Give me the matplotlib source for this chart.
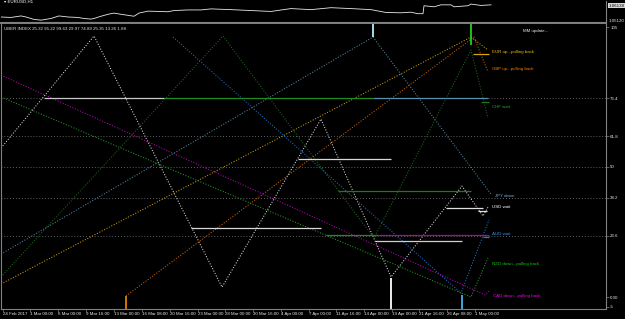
import matplotlib
matplotlib.use('Agg')
import matplotlib.pyplot as plt

FONT = ['Liberation Sans', 'DejaVu Sans']
FS = 3.2
GRID = '#808080'
TXT = '#e6e6e6'

# x positions are bar columns of the MT4 chart window
tick_pos = [2, 29, 57, 85, 113, 141, 169, 197, 224, 252, 280, 308, 335, 363, 391, 418, 446, 474]
tick_labels = ['24 Feb 2017', '1 Mar 00:00', '6 Mar 00:00', '9 Mar 16:00', '13 Mar 00:00',
               '16 Mar 08:00', '20 Mar 16:00', '23 Mar 00:00', '28 Mar 00:00', '30 Mar 16:00',
               '4 Apr 00:00', '7 Apr 00:00', '11 Apr 16:00', '14 Apr 00:00', '19 Apr 00:00',
               '21 Apr 16:00', '26 Apr 08:00', '1 May 00:00']

# EURUSD H1 (top window)
price_x = [0, 10, 20, 25, 33, 40, 50, 58, 67, 77, 83, 90, 93, 100, 107, 113, 120, 127, 133, 138,
           147, 157, 167, 173, 187, 200, 210, 230, 250, 270, 290, 310, 330, 350, 370, 385, 400,
           410, 417, 422, 423, 433, 440, 450, 453, 467, 470, 480, 490]
price_y = [1.0539, 1.0536, 1.0546, 1.0539, 1.0523, 1.0518, 1.0529, 1.0546, 1.0539, 1.0536,
           1.0529, 1.0525, 1.0529, 1.0544, 1.0557, 1.0565, 1.0557, 1.0550, 1.0544, 1.0565,
           1.0578, 1.0576, 1.0574, 1.0582, 1.0586, 1.0586, 1.0593, 1.0588, 1.0582, 1.0576,
           1.0595, 1.0588, 1.0601, 1.0595, 1.0588, 1.0569, 1.0567, 1.0571, 1.0561, 1.0561,
           1.0614, 1.0607, 1.0620, 1.0620, 1.0607, 1.0614, 1.0625, 1.0616, 1.0620]

# Uber index zigzags, one per currency
usd_x = [0, 93, 221, 320, 390, 461, 482, 487]
usd_v = [57.2, 100.2, 3.8, 68.3, 7.7, 42.6, 31.1, 34.5]
eur_x = [0, 470, 487]
eur_v = [5.0, 99.8, 94.8]
gbp_x = [125, 473, 487]
gbp_v = [0.4, 99.8, 86.4]
chf_x = [0, 222, 373, 470, 487]
chf_v = [7.7, 100.2, 22.6, 94.8, 68.7]
jpy_x = [0, 372, 490]
jpy_v = [16.5, 99.8, 39.5]
aud_x = [172, 460, 488]
aud_v = [99.8, 1.5, 29.6]
nzd_x = [0, 470, 487]
nzd_v = [76.8, 0.0, 15.0]
cad_x = [0, 484, 488]
cad_v = [85.2, 0.8, 2.3]

levels = [76.4, 61.8, 50, 38.2, 23.6]
axis_labels = ['105', '76.4', '61.8', '50', '38.2', '23.6', '0.00', '-5']
axis_values = [103.5, 76.4, 61.8, 50, 38.2, 23.6, 0.0, -3.8]

# solid level segments
seg_x0 = [43, 163, 372, 297, 337, 445, 190, 325, 377, 374, 472, 480, 482, 477]
seg_x1 = [163, 372, 487, 390, 470, 482, 320, 377, 488, 461, 488, 488, 488, 486]
seg_v = [76.4, 76.4, 76.4, 53.0, 40.7, 34.2, 26.5, 23.8, 23.8, 21.5, 93.3, 74.8, 23.0, 33.0]
seg_c = ['#c8c8c8', '#1e8c1e', '#5a8eaa', '#d8d8d8', '#1e7a1e', '#e0e0e0', '#d8d8d8',
         '#1e8c1e', '#b000b0', '#d0d0d0', '#d4a800', '#1e7a1e', '#2a7ad0', '#e0e0e0']

# extreme markers
bar_x = [125, 390, 461, 372, 470]
bar_v = [0.4, 7.3, 0.8, 99.8, 96.7]
bar_c = ['#e08000', '#ffffff', '#4ab0f0', '#b0f0ff', '#20d020']
bar_low = [True, True, True, False, False]

names = ['EUR up...pulling back', 'GBP up...pulling back', 'CHF wait', 'JPY down', 'USD wait',
         'AUD wait', 'NZD down...pulling back', 'CAD down...pulling back']
name_v = [94.0, 87.5, 72.9, 38.8, 34.5, 24.2, 12.7, 0.4]
name_x = [491, 491, 491, 494, 491, 491, 491, 492]
name_c = ['#f0bc00', '#f87c00', '#24a824', '#78b0d0', '#ffffff', '#3090f0', '#14c014', '#f000f0']

XMAX = 605
YMIN, YMAX = -4.6, 105.2

fig = plt.figure(figsize=(6.25, 3.19), dpi=100, facecolor='black')

def frac(px_left, py_top, px_right, py_bottom):
    return [px_left / 625, 1 - py_bottom / 319, (px_right - px_left) / 625, (py_bottom - py_top) / 319]

# top price window
axp = fig.add_axes(frac(1, 1, 606, 22))
axp.set_facecolor('black')
axp.plot(price_x, price_y, color='#e8e8e8', lw=0.6)
axp.set_xlim(0, XMAX)
axp.set_ylim(1.05056, 1.06456)
axp.set_xticks([])
axp.set_yticks([])
for s in axp.spines.values():
    s.set_color(GRID)
    s.set_linewidth(0.8)
axp.spines['top'].set_visible(False)
axp.spines['left'].set_visible(False)
axp.text(3, 1.0640, '\u25be EURUSD,H1', color='white', fontsize=FS, family=FONT, va='center')
axp.text(1.004, 0.78, '1.06138', transform=axp.transAxes, fontsize=FS, family=FONT,
         color='black', va='center', ha='left',
         bbox=dict(facecolor='#d8d8d8', edgecolor='none', pad=0.5))
axp.text(1.004, 0.05, '1.05120', transform=axp.transAxes, fontsize=FS, family=FONT,
         color=TXT, va='center', ha='left')

# main indicator window
ax = fig.add_axes(frac(1, 23, 606, 309))
ax.set_facecolor('black')
ax.set_xlim(0, XMAX)
ax.set_ylim(YMIN, YMAX)

for lv in levels:
    ax.axhline(lv, color=GRID, lw=0.6, ls=(0, (1, 2.5)))

dot = (0, (1, 1.6))
ax.plot(usd_x, usd_v, color='#dadada', lw=0.75, ls=dot)
ax.plot(eur_x, eur_v, color='#d0a000', lw=0.75, ls=dot)
ax.plot(gbp_x, gbp_v, color='#d06400', lw=0.75, ls=dot)
ax.plot(chf_x, chf_v, color='#1f661f', lw=0.75, ls=dot)
ax.plot(jpy_x, jpy_v, color='#5586a0', lw=0.75, ls=dot)
ax.plot(aud_x, aud_v, color='#2070c0', lw=0.75, ls=dot)
ax.plot(nzd_x, nzd_v, color='#229a22', lw=0.75, ls=dot)
ax.plot(cad_x, cad_v, color='#c000c0', lw=0.75, ls=dot)

ax.hlines(seg_v, seg_x0, seg_x1, colors=seg_c, lw=0.9)

for x, v, c, low in zip(bar_x, bar_v, bar_c, bar_low):
    if low:
        ax.vlines(x, YMIN, v, colors=c, lw=1.3)
    else:
        ax.vlines(x, v, YMAX, colors=c, lw=1.3)

for n, x, v, c in zip(names, name_x, name_v, name_c):
    ax.text(x, v, n, color=c, fontsize=FS, family=FONT, va='center', ha='left')

ax.text(3, 102.8, 'UBER INDEX 25.32 95.22 99.63 29.97 74.89 25.35 13.26 1.88',
        color=TXT, fontsize=FS, family=FONT, va='center', ha='left')
ax.text(522, 102.3, 'MM update...', color=TXT, fontsize=FS, family=FONT,
        va='center', ha='left')

ax.set_xticks(tick_pos)
ax.set_xticklabels(tick_labels, fontsize=FS, family=FONT, color=TXT, ha='left')
ax.tick_params(axis='x', length=2, width=0.5, color=GRID, pad=0.2)
ax.set_yticks(axis_values)
ax.set_yticklabels(axis_labels, fontsize=FS, family=FONT, color=TXT)
ax.yaxis.tick_right()
ax.tick_params(axis='y', length=2, width=0.5, color=GRID, pad=1)
for s in ax.spines.values():
    s.set_color(GRID)
    s.set_linewidth(0.8)
ax.spines['top'].set_linewidth(1.4)

fig.savefig('out.png', dpi=100, facecolor='black')
